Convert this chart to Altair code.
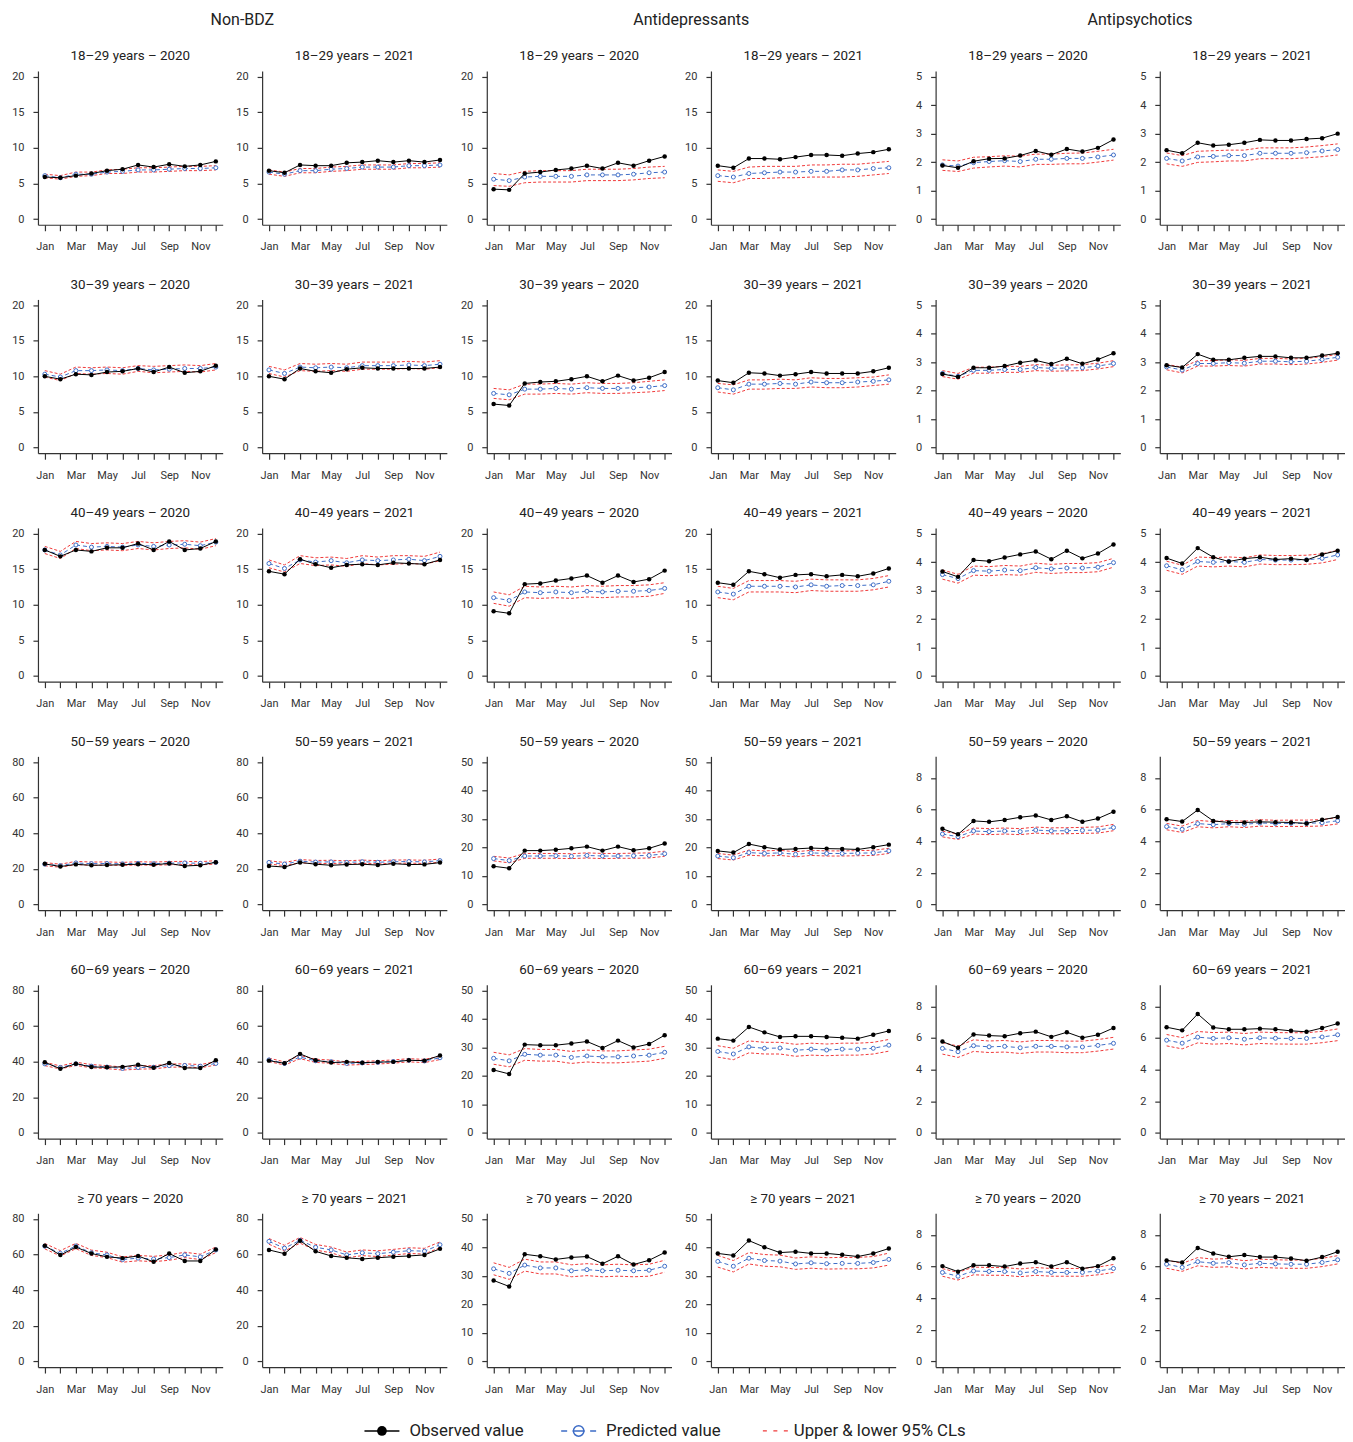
import altair as alt
import pandas as pd

# ---------------- categories / labels ----------------
months = ["Jan", "Feb", "Mar", "Apr", "May", "Jun", "Jul", "Aug", "Sep", "Oct", "Nov", "Dec"]
drug_groups = ["Non-BDZ", "Antidepressants", "Antipsychotics"]
age_groups = ["18–29 years", "30–39 years", "40–49 years", "50–59 years", "60–69 years", "≥ 70 years"]
years = ["2020", "2021"]
legend_labels = ["Observed value", "Predicted value", "Upper & lower 95% CLs"]

# y-axis tick labels per drug group (ages < 50, ages >= 50)
yticks_young = [[0, 5, 10, 15, 20], [0, 5, 10, 15, 20], [0, 1, 2, 3, 4, 5]]
yticks_old = [[0, 20, 40, 60, 80], [0, 10, 20, 30, 40, 50], [0, 2, 4, 6, 8]]
ytop_young = [20, 20, 5]
ytop_old = [80, 50, 9]

# ---------------- Non-BDZ ----------------
nb_a18_y20_obs = [5.9, 5.8, 6.1, 6.4, 6.8, 7.0, 7.6, 7.3, 7.7, 7.4, 7.6, 8.1]
nb_a18_y20_pred = [6.1, 5.8, 6.3, 6.3, 6.6, 6.7, 6.9, 6.9, 7.0, 7.1, 7.1, 7.2]
nb_a18_y20_hi = [6.3, 6.1, 6.6, 6.6, 6.9, 7.0, 7.2, 7.2, 7.3, 7.4, 7.4, 7.5]
nb_a18_y20_lo = [5.8, 5.6, 6.0, 6.1, 6.4, 6.4, 6.6, 6.6, 6.7, 6.8, 6.8, 6.9]

nb_a18_y21_obs = [6.8, 6.5, 7.6, 7.5, 7.5, 7.9, 8.0, 8.2, 8.0, 8.2, 8.0, 8.3]
nb_a18_y21_pred = [6.6, 6.3, 6.8, 6.8, 7.0, 7.1, 7.3, 7.3, 7.3, 7.5, 7.5, 7.6]
nb_a18_y21_hi = [6.9, 6.6, 7.1, 7.1, 7.3, 7.4, 7.6, 7.6, 7.6, 7.8, 7.8, 7.9]
nb_a18_y21_lo = [6.3, 6.0, 6.5, 6.5, 6.7, 6.8, 7.0, 7.0, 7.0, 7.2, 7.2, 7.3]

nb_a30_y20_obs = [10.0, 9.6, 10.3, 10.2, 10.6, 10.7, 11.1, 10.6, 11.3, 10.5, 10.7, 11.5]
nb_a30_y20_pred = [10.3, 9.9, 10.8, 10.8, 10.9, 10.8, 11.1, 10.9, 11.0, 11.1, 11.1, 11.3]
nb_a30_y20_hi = [10.8, 10.3, 11.3, 11.2, 11.3, 11.2, 11.5, 11.4, 11.5, 11.6, 11.5, 11.8]
nb_a30_y20_lo = [9.9, 9.4, 10.4, 10.3, 10.4, 10.3, 10.7, 10.5, 10.6, 10.7, 10.6, 10.9]

nb_a30_y21_obs = [10.0, 9.6, 11.1, 10.7, 10.5, 11.0, 11.2, 11.1, 11.1, 11.1, 11.1, 11.3]
nb_a30_y21_pred = [10.9, 10.4, 11.3, 11.2, 11.3, 11.2, 11.5, 11.5, 11.5, 11.6, 11.5, 11.7]
nb_a30_y21_hi = [11.4, 10.9, 11.8, 11.7, 11.8, 11.7, 12.0, 12.0, 12.0, 12.1, 12.0, 12.2]
nb_a30_y21_lo = [10.4, 9.9, 10.8, 10.7, 10.8, 10.7, 11.0, 11.0, 11.0, 11.1, 11.0, 11.2]

nb_a40_y20_obs = [17.7, 16.8, 17.7, 17.5, 18.0, 18.0, 18.6, 17.7, 18.9, 17.7, 17.9, 18.9]
nb_a40_y20_pred = [17.7, 17.0, 18.4, 18.1, 18.2, 18.1, 18.4, 18.2, 18.4, 18.5, 18.3, 18.8]
nb_a40_y20_hi = [18.2, 17.5, 18.9, 18.6, 18.7, 18.6, 18.9, 18.7, 18.9, 19.0, 18.8, 19.3]
nb_a40_y20_lo = [17.2, 16.5, 17.9, 17.6, 17.7, 17.6, 17.9, 17.7, 17.9, 18.0, 17.8, 18.3]

nb_a40_y21_obs = [14.7, 14.3, 16.4, 15.7, 15.2, 15.6, 15.7, 15.6, 15.9, 15.8, 15.7, 16.3]
nb_a40_y21_pred = [15.8, 15.1, 16.3, 16.0, 16.2, 15.9, 16.3, 16.2, 16.3, 16.4, 16.2, 16.8]
nb_a40_y21_hi = [16.3, 15.6, 16.9, 16.6, 16.7, 16.5, 16.9, 16.7, 16.9, 16.9, 16.8, 17.4]
nb_a40_y21_lo = [15.2, 14.6, 15.8, 15.5, 15.6, 15.4, 15.8, 15.6, 15.7, 15.8, 15.7, 16.2]

nb_a50_y20_obs = [22.8, 21.3, 22.5, 22.0, 22.1, 22.3, 22.6, 22.3, 23.0, 21.6, 22.0, 23.7]
nb_a50_y20_pred = [22.6, 21.8, 23.3, 22.9, 23.0, 22.8, 23.1, 22.9, 23.2, 23.3, 23.1, 23.6]
nb_a50_y20_hi = [23.5, 22.6, 24.2, 23.8, 23.9, 23.6, 24.0, 23.8, 24.1, 24.2, 24.0, 24.6]
nb_a50_y20_lo = [21.7, 20.9, 22.4, 22.0, 22.1, 21.9, 22.2, 22.0, 22.3, 22.4, 22.2, 22.7]

nb_a50_y21_obs = [21.6, 21.0, 23.6, 22.6, 22.0, 22.4, 22.6, 22.1, 22.9, 22.4, 22.5, 23.5]
nb_a50_y21_pred = [23.6, 22.7, 24.3, 23.8, 23.9, 23.6, 24.0, 23.7, 24.0, 24.1, 23.9, 24.6]
nb_a50_y21_hi = [24.5, 23.6, 25.2, 24.7, 24.8, 24.5, 24.9, 24.6, 24.9, 25.0, 24.8, 25.5]
nb_a50_y21_lo = [22.7, 21.8, 23.4, 22.9, 23.0, 22.7, 23.1, 22.8, 23.1, 23.2, 23.0, 23.7]

nb_a60_y20_obs = [39.7, 36.0, 38.9, 37.0, 36.9, 37.1, 38.3, 36.6, 39.3, 36.5, 36.4, 40.8]
nb_a60_y20_pred = [38.8, 36.8, 38.8, 37.5, 37.0, 36.2, 36.7, 36.9, 37.8, 37.9, 37.5, 39.0]
nb_a60_y20_hi = [39.7, 37.6, 39.7, 38.4, 37.8, 37.0, 37.6, 37.8, 38.7, 38.8, 38.4, 40.0]
nb_a60_y20_lo = [37.8, 35.9, 37.9, 36.6, 36.1, 35.3, 35.8, 36.0, 36.9, 37.0, 36.6, 38.1]

nb_a60_y21_obs = [40.6, 39.1, 44.4, 40.8, 39.5, 39.9, 39.4, 39.8, 39.9, 40.8, 40.6, 43.5]
nb_a60_y21_pred = [41.0, 39.0, 42.6, 40.5, 40.0, 39.0, 39.3, 39.6, 40.1, 40.8, 40.4, 42.2]
nb_a60_y21_hi = [42.0, 39.9, 43.5, 41.4, 40.9, 39.9, 40.2, 40.5, 41.0, 41.7, 41.3, 43.1]
nb_a60_y21_lo = [40.1, 38.1, 41.7, 39.6, 39.1, 38.1, 38.4, 38.7, 39.2, 39.9, 39.5, 41.2]

nb_a70_y20_obs = [65.0, 59.7, 64.2, 60.6, 58.7, 58.0, 59.2, 55.9, 60.6, 56.4, 56.4, 62.8]
nb_a70_y20_pred = [64.7, 60.7, 64.8, 61.0, 59.8, 57.2, 58.0, 57.5, 58.3, 59.8, 58.7, 62.6]
nb_a70_y20_hi = [66.2, 62.2, 66.3, 62.5, 61.3, 58.7, 59.5, 59.0, 59.8, 61.3, 60.2, 64.2]
nb_a70_y20_lo = [63.2, 59.2, 63.3, 59.5, 58.3, 55.7, 56.5, 56.0, 56.8, 58.3, 57.2, 61.1]

nb_a70_y21_obs = [62.6, 60.5, 67.8, 61.8, 59.2, 58.2, 57.5, 58.2, 58.8, 59.2, 59.8, 63.2]
nb_a70_y21_pred = [67.4, 63.6, 68.0, 64.1, 62.6, 59.8, 61.0, 60.5, 61.3, 62.2, 61.9, 65.5]
nb_a70_y21_hi = [69.0, 65.2, 69.6, 65.7, 64.2, 61.4, 62.6, 62.1, 62.9, 63.8, 63.5, 67.1]
nb_a70_y21_lo = [65.8, 62.0, 66.4, 62.5, 61.0, 58.2, 59.4, 58.9, 59.7, 60.6, 60.3, 63.9]

# ---------------- Antidepressants ----------------
ad_a18_y20_obs = [4.2, 4.1, 6.4, 6.6, 6.9, 7.1, 7.5, 7.1, 7.9, 7.5, 8.2, 8.8]
ad_a18_y20_pred = [5.6, 5.4, 5.9, 6.0, 6.0, 6.0, 6.2, 6.2, 6.2, 6.3, 6.5, 6.6]
ad_a18_y20_hi = [6.4, 6.2, 6.7, 6.8, 6.8, 6.8, 7.0, 7.0, 7.0, 7.1, 7.3, 7.4]
ad_a18_y20_lo = [4.7, 4.6, 5.1, 5.2, 5.2, 5.2, 5.4, 5.4, 5.4, 5.5, 5.7, 5.8]

ad_a18_y21_obs = [7.5, 7.2, 8.5, 8.5, 8.4, 8.7, 9.0, 9.0, 8.9, 9.2, 9.4, 9.8]
ad_a18_y21_pred = [6.1, 5.9, 6.4, 6.5, 6.6, 6.6, 6.7, 6.7, 6.9, 6.9, 7.1, 7.2]
ad_a18_y21_hi = [6.9, 6.7, 7.3, 7.4, 7.4, 7.4, 7.6, 7.6, 7.7, 7.7, 7.9, 8.1]
ad_a18_y21_lo = [5.3, 5.1, 5.7, 5.7, 5.8, 5.8, 5.9, 5.9, 5.9, 6.0, 6.2, 6.4]

ad_a30_y20_obs = [6.1, 5.9, 9.0, 9.2, 9.3, 9.6, 10.0, 9.3, 10.1, 9.4, 9.8, 10.6]
ad_a30_y20_pred = [7.6, 7.4, 8.2, 8.2, 8.3, 8.2, 8.4, 8.3, 8.3, 8.4, 8.5, 8.7]
ad_a30_y20_hi = [8.3, 8.1, 8.9, 8.9, 9.0, 8.9, 9.1, 9.0, 9.0, 9.1, 9.3, 9.5]
ad_a30_y20_lo = [6.9, 6.7, 7.5, 7.5, 7.6, 7.5, 7.7, 7.6, 7.6, 7.7, 7.8, 8.0]

ad_a30_y21_obs = [9.4, 9.1, 10.5, 10.4, 10.1, 10.3, 10.6, 10.4, 10.4, 10.4, 10.7, 11.2]
ad_a30_y21_pred = [8.4, 8.1, 8.9, 8.9, 9.0, 8.9, 9.2, 9.1, 9.1, 9.2, 9.3, 9.5]
ad_a30_y21_hi = [9.0, 8.8, 9.5, 9.5, 9.6, 9.5, 9.8, 9.7, 9.7, 9.8, 9.9, 10.2]
ad_a30_y21_lo = [7.8, 7.5, 8.2, 8.2, 8.3, 8.3, 8.5, 8.4, 8.4, 8.5, 8.7, 8.9]

ad_a40_y20_obs = [9.1, 8.8, 12.9, 13.0, 13.4, 13.7, 14.1, 13.1, 14.1, 13.2, 13.6, 14.8]
ad_a40_y20_pred = [11.0, 10.6, 11.8, 11.7, 11.8, 11.7, 11.9, 11.8, 11.9, 11.9, 12.0, 12.3]
ad_a40_y20_hi = [11.8, 11.4, 12.6, 12.5, 12.6, 12.5, 12.7, 12.6, 12.7, 12.7, 12.8, 13.1]
ad_a40_y20_lo = [10.2, 9.8, 11.0, 10.9, 11.0, 10.9, 11.1, 11.0, 11.1, 11.1, 11.2, 11.6]

ad_a40_y21_obs = [13.1, 12.8, 14.7, 14.3, 13.8, 14.2, 14.3, 14.0, 14.2, 14.0, 14.4, 15.1]
ad_a40_y21_pred = [11.8, 11.5, 12.6, 12.6, 12.6, 12.5, 12.8, 12.6, 12.7, 12.7, 12.8, 13.3]
ad_a40_y21_hi = [12.6, 12.3, 13.4, 13.4, 13.4, 13.3, 13.6, 13.5, 13.5, 13.5, 13.7, 14.1]
ad_a40_y21_lo = [11.0, 10.7, 11.8, 11.8, 11.8, 11.7, 12.0, 11.9, 11.9, 11.9, 12.1, 12.5]

ad_a50_y20_obs = [13.4, 12.7, 18.9, 18.9, 19.2, 19.7, 20.3, 18.9, 20.3, 19.0, 19.7, 21.4]
ad_a50_y20_pred = [16.1, 15.4, 17.0, 17.0, 17.1, 16.9, 17.2, 17.0, 17.0, 17.1, 17.2, 17.8]
ad_a50_y20_hi = [16.9, 16.3, 17.9, 17.9, 17.9, 17.8, 18.1, 17.9, 17.9, 18.0, 18.1, 18.7]
ad_a50_y20_lo = [15.3, 14.6, 16.2, 16.2, 16.2, 16.1, 16.3, 16.1, 16.2, 16.2, 16.3, 16.9]

ad_a50_y21_obs = [18.8, 18.2, 21.2, 20.1, 19.3, 19.5, 19.8, 19.6, 19.5, 19.3, 20.1, 21.0]
ad_a50_y21_pred = [17.0, 16.4, 18.2, 17.9, 18.1, 17.6, 18.1, 17.9, 17.9, 18.0, 18.1, 18.8]
ad_a50_y21_hi = [17.9, 17.3, 19.1, 18.8, 19.0, 18.5, 19.0, 18.8, 18.8, 18.9, 19.0, 19.7]
ad_a50_y21_lo = [16.1, 15.6, 17.3, 17.0, 17.2, 16.7, 17.2, 17.0, 17.0, 17.1, 17.2, 17.9]

ad_a60_y20_obs = [22.1, 20.7, 31.0, 30.8, 30.8, 31.4, 32.1, 29.8, 32.4, 30.0, 31.2, 34.3]
ad_a60_y20_pred = [26.2, 25.3, 27.6, 27.3, 27.3, 26.5, 27.0, 26.7, 26.7, 27.0, 27.3, 28.3]
ad_a60_y20_hi = [28.3, 27.4, 29.6, 29.3, 29.3, 28.6, 29.1, 28.8, 28.8, 29.1, 29.4, 30.4]
ad_a60_y20_lo = [24.1, 23.2, 25.5, 25.2, 25.2, 24.4, 24.9, 24.6, 24.6, 24.9, 25.2, 26.2]

ad_a60_y21_obs = [33.1, 32.4, 37.2, 35.3, 33.7, 33.9, 33.9, 33.7, 33.4, 33.1, 34.5, 35.8]
ad_a60_y21_pred = [28.6, 27.7, 30.2, 29.7, 29.8, 29.0, 29.4, 29.1, 29.4, 29.4, 29.7, 30.8]
ad_a60_y21_hi = [30.6, 29.7, 32.3, 31.8, 31.8, 31.1, 31.5, 31.2, 31.5, 31.5, 31.8, 32.8]
ad_a60_y21_lo = [26.6, 25.7, 28.1, 27.7, 27.7, 26.9, 27.3, 27.1, 27.3, 27.3, 27.7, 28.7]

ad_a70_y20_obs = [28.4, 26.3, 37.6, 36.9, 35.8, 36.5, 36.8, 34.3, 36.9, 34.0, 35.5, 38.2]
ad_a70_y20_pred = [32.5, 30.9, 33.8, 32.8, 32.8, 31.8, 32.2, 31.8, 32.0, 31.8, 32.0, 33.4]
ad_a70_y20_hi = [34.6, 33.0, 35.9, 34.9, 34.9, 33.9, 34.3, 33.9, 34.1, 33.9, 34.1, 35.5]
ad_a70_y20_lo = [30.4, 28.8, 31.7, 30.7, 30.7, 29.7, 30.1, 29.7, 29.9, 29.7, 29.9, 31.3]

ad_a70_y21_obs = [37.9, 37.2, 42.4, 40.1, 38.2, 38.5, 37.9, 37.9, 37.4, 36.8, 37.9, 39.6]
ad_a70_y21_pred = [35.1, 33.4, 36.2, 35.4, 35.2, 34.2, 34.6, 34.3, 34.4, 34.4, 34.7, 35.8]
ad_a70_y21_hi = [37.2, 35.4, 38.2, 37.5, 37.3, 36.3, 36.7, 36.4, 36.5, 36.5, 36.8, 38.0]
ad_a70_y21_lo = [33.1, 31.4, 34.2, 33.4, 33.2, 32.3, 32.7, 32.4, 32.5, 32.5, 32.8, 33.8]

# ---------------- Antipsychotics ----------------
ap_a18_y20_obs = [1.88, 1.80, 2.03, 2.12, 2.13, 2.23, 2.39, 2.26, 2.46, 2.37, 2.50, 2.79]
ap_a18_y20_pred = [1.90, 1.86, 1.98, 2.02, 2.05, 2.02, 2.10, 2.10, 2.13, 2.13, 2.18, 2.25]
ap_a18_y20_hi = [2.08, 2.04, 2.17, 2.19, 2.22, 2.21, 2.28, 2.28, 2.31, 2.32, 2.38, 2.45]
ap_a18_y20_lo = [1.71, 1.67, 1.79, 1.83, 1.86, 1.83, 1.92, 1.92, 1.94, 1.94, 2.00, 2.07]

ap_a18_y21_obs = [2.42, 2.31, 2.68, 2.58, 2.61, 2.68, 2.78, 2.76, 2.76, 2.81, 2.84, 3.00]
ap_a18_y21_pred = [2.13, 2.04, 2.18, 2.20, 2.23, 2.23, 2.31, 2.31, 2.31, 2.33, 2.39, 2.44]
ap_a18_y21_hi = [2.32, 2.23, 2.38, 2.40, 2.42, 2.42, 2.50, 2.50, 2.50, 2.53, 2.58, 2.64]
ap_a18_y21_lo = [1.94, 1.85, 1.99, 2.01, 2.04, 2.04, 2.12, 2.12, 2.12, 2.15, 2.19, 2.25]

ap_a30_y20_obs = [2.58, 2.48, 2.80, 2.80, 2.86, 2.98, 3.06, 2.93, 3.12, 2.94, 3.09, 3.31]
ap_a30_y20_pred = [2.60, 2.50, 2.71, 2.71, 2.74, 2.74, 2.81, 2.78, 2.79, 2.80, 2.86, 2.95]
ap_a30_y20_hi = [2.70, 2.60, 2.82, 2.82, 2.85, 2.85, 2.91, 2.89, 2.90, 2.91, 2.96, 3.05]
ap_a30_y20_lo = [2.49, 2.40, 2.61, 2.61, 2.64, 2.64, 2.70, 2.68, 2.69, 2.70, 2.76, 2.84]

ap_a30_y21_obs = [2.89, 2.81, 3.28, 3.08, 3.08, 3.15, 3.20, 3.20, 3.15, 3.15, 3.23, 3.31]
ap_a30_y21_pred = [2.83, 2.72, 2.95, 2.95, 2.98, 2.96, 3.03, 3.03, 3.01, 3.03, 3.09, 3.17]
ap_a30_y21_hi = [2.92, 2.82, 3.05, 3.05, 3.08, 3.06, 3.13, 3.13, 3.11, 3.13, 3.19, 3.27]
ap_a30_y21_lo = [2.73, 2.62, 2.86, 2.86, 2.88, 2.86, 2.93, 2.93, 2.91, 2.93, 2.99, 3.07]

ap_a40_y20_obs = [3.67, 3.48, 4.07, 4.03, 4.16, 4.27, 4.37, 4.10, 4.40, 4.13, 4.30, 4.62]
ap_a40_y20_pred = [3.56, 3.42, 3.70, 3.68, 3.72, 3.70, 3.80, 3.76, 3.79, 3.79, 3.82, 3.98]
ap_a40_y20_hi = [3.72, 3.57, 3.86, 3.84, 3.88, 3.86, 3.96, 3.92, 3.95, 3.95, 3.98, 4.13]
ap_a40_y20_lo = [3.40, 3.26, 3.54, 3.52, 3.56, 3.54, 3.64, 3.60, 3.63, 3.63, 3.66, 3.82]

ap_a40_y21_obs = [4.14, 3.95, 4.49, 4.17, 4.02, 4.12, 4.17, 4.09, 4.12, 4.07, 4.27, 4.40]
ap_a40_y21_pred = [3.87, 3.73, 4.02, 3.99, 4.02, 3.99, 4.09, 4.07, 4.07, 4.08, 4.13, 4.25]
ap_a40_y21_hi = [4.03, 3.89, 4.18, 4.15, 4.18, 4.15, 4.25, 4.23, 4.23, 4.24, 4.29, 4.41]
ap_a40_y21_lo = [3.71, 3.57, 3.86, 3.83, 3.86, 3.83, 3.93, 3.91, 3.91, 3.92, 3.97, 4.09]

ap_a50_y20_obs = [4.78, 4.43, 5.28, 5.22, 5.34, 5.51, 5.62, 5.34, 5.57, 5.22, 5.43, 5.86]
ap_a50_y20_pred = [4.45, 4.28, 4.64, 4.60, 4.64, 4.60, 4.70, 4.65, 4.66, 4.68, 4.70, 4.86]
ap_a50_y20_hi = [4.63, 4.45, 4.83, 4.79, 4.83, 4.79, 4.89, 4.84, 4.85, 4.87, 4.90, 5.06]
ap_a50_y20_lo = [4.27, 4.11, 4.45, 4.41, 4.45, 4.41, 4.51, 4.46, 4.47, 4.49, 4.51, 4.66]

ap_a50_y21_obs = [5.38, 5.24, 5.97, 5.28, 5.18, 5.18, 5.22, 5.20, 5.18, 5.12, 5.35, 5.53]
ap_a50_y21_pred = [4.92, 4.75, 5.11, 5.04, 5.11, 5.06, 5.15, 5.12, 5.13, 5.13, 5.16, 5.29]
ap_a50_y21_hi = [5.12, 4.95, 5.31, 5.24, 5.31, 5.26, 5.35, 5.32, 5.33, 5.33, 5.36, 5.49]
ap_a50_y21_lo = [4.72, 4.55, 4.91, 4.84, 4.91, 4.86, 4.95, 4.92, 4.93, 4.93, 4.96, 5.09]

ap_a60_y20_obs = [5.77, 5.38, 6.22, 6.15, 6.11, 6.30, 6.40, 6.07, 6.36, 6.01, 6.20, 6.63]
ap_a60_y20_pred = [5.34, 5.13, 5.51, 5.44, 5.47, 5.38, 5.47, 5.47, 5.43, 5.43, 5.53, 5.66]
ap_a60_y20_hi = [5.70, 5.49, 5.88, 5.81, 5.84, 5.75, 5.84, 5.84, 5.80, 5.80, 5.90, 6.04]
ap_a60_y20_lo = [4.98, 4.77, 5.15, 5.08, 5.11, 5.02, 5.11, 5.11, 5.07, 5.07, 5.17, 5.30]

ap_a60_y21_obs = [6.68, 6.48, 7.52, 6.66, 6.55, 6.55, 6.59, 6.55, 6.45, 6.39, 6.63, 6.91]
ap_a60_y21_pred = [5.86, 5.67, 6.05, 5.97, 6.01, 5.92, 6.01, 5.98, 5.97, 5.97, 6.06, 6.20]
ap_a60_y21_hi = [6.22, 6.02, 6.41, 6.34, 6.37, 6.28, 6.37, 6.34, 6.33, 6.33, 6.42, 6.57]
ap_a60_y21_lo = [5.50, 5.31, 5.69, 5.61, 5.65, 5.56, 5.65, 5.62, 5.61, 5.61, 5.70, 5.83]

ap_a70_y20_obs = [6.02, 5.67, 6.07, 6.07, 5.99, 6.18, 6.27, 5.99, 6.27, 5.86, 6.02, 6.52]
ap_a70_y20_pred = [5.62, 5.38, 5.71, 5.68, 5.68, 5.59, 5.68, 5.62, 5.62, 5.62, 5.71, 5.87]
ap_a70_y20_hi = [5.86, 5.62, 5.96, 5.93, 5.93, 5.84, 5.93, 5.87, 5.87, 5.87, 5.96, 6.12]
ap_a70_y20_lo = [5.38, 5.14, 5.47, 5.44, 5.44, 5.35, 5.44, 5.38, 5.38, 5.38, 5.47, 5.62]

ap_a70_y21_obs = [6.38, 6.25, 7.17, 6.82, 6.61, 6.72, 6.59, 6.59, 6.50, 6.36, 6.59, 6.93]
ap_a70_y21_pred = [6.14, 5.94, 6.30, 6.20, 6.24, 6.10, 6.20, 6.16, 6.14, 6.14, 6.25, 6.42]
ap_a70_y21_hi = [6.40, 6.19, 6.56, 6.46, 6.50, 6.36, 6.46, 6.42, 6.40, 6.40, 6.51, 6.68]
ap_a70_y21_lo = [5.88, 5.69, 6.04, 5.94, 5.98, 5.84, 5.94, 5.90, 5.88, 5.88, 5.99, 6.16]

# ---------------- lookup built from the named lists ----------------
_g = globals()
drug_keys = ["nb", "ad", "ap"]
age_keys = ["a18", "a30", "a40", "a50", "a60", "a70"]
year_keys = ["y20", "y21"]


def series(d, a, y):
    p = f"{drug_keys[d]}_{age_keys[a]}_{year_keys[y]}"
    return _g[p + "_obs"], _g[p + "_pred"], _g[p + "_lo"], _g[p + "_hi"]


# ---------------- styling ----------------
FONT = "Roboto"
RED = "#F03A3A"
BLUE = "#3D6CC6"
TEXT = "#222222"
AXIS = "#333333"
PW, PH = 185, 154          # plot area of each panel
HSP, VSP = 9.5, 25.8       # spacing between panels

odd_months = ",".join(f"'{m}'" for m in months[::2])
xlabel_expr = f"indexof([{odd_months}], datum.value) >= 0 ? datum.value : ''"


def make_panel(d, a, y):
    obs, pred, lo, hi = series(d, a, y)
    df = pd.DataFrame({"month": months, "obs": obs, "pred": pred, "lo": lo, "hi": hi})
    young = a < 3
    top = ytop_young[d] if young else ytop_old[d]
    ticks = yticks_young[d] if young else yticks_old[d]
    ext = 0.04 * top
    yscale = alt.Scale(domain=[-ext, top + ext], nice=False, zero=False)
    yaxis = alt.Axis(values=ticks, tickSize=5, labelPadding=9, labelFontSize=11,
                     minExtent=30, maxExtent=30, grid=False, title=None)

    def Y(f):
        return alt.Y(f"{f}:Q", scale=yscale, axis=yaxis, title=None)

    xaxis = alt.Axis(labelExpr=xlabel_expr, labelAngle=0, tickSize=6, labelPadding=10,
                     labelFontSize=11, labelOverlap=False, grid=False, title=None)
    X = alt.X("month:O", sort=months, scale=alt.Scale(type="point", padding=0.44),
              axis=xaxis, title=None)
    base = alt.Chart(df).encode(x=X)
    layers = [
        base.mark_line(color=RED, strokeWidth=1, strokeDash=[3, 2]).encode(y=Y("lo")),
        base.mark_line(color=RED, strokeWidth=1, strokeDash=[3, 2]).encode(y=Y("hi")),
        base.mark_line(color=BLUE, strokeWidth=1, strokeDash=[4, 3]).encode(y=Y("pred")),
        base.mark_point(shape="circle", size=16, filled=True, fill="white", stroke=BLUE,
                        strokeWidth=1, opacity=1).encode(y=Y("pred")),
        base.mark_line(color="black", strokeWidth=1).encode(y=Y("obs")),
        base.mark_circle(size=20, color="black", opacity=1).encode(y=Y("obs")),
    ]
    return alt.layer(*layers).properties(
        width=PW, height=PH,
        title=alt.TitleParams(text=f"{age_groups[a]} – {years[y]}", fontSize=13.4, font=FONT,
                              fontWeight="normal", color=TEXT, frame="group",
                              anchor="middle", offset=8),
    )


groups = []
for d in range(3):
    rows = [alt.hconcat(make_panel(d, a, 0), make_panel(d, a, 1), spacing=HSP) for a in range(6)]
    groups.append(alt.vconcat(*rows, spacing=VSP, title=alt.TitleParams(
        text=drug_groups[d], fontSize=16, font=FONT, fontWeight="normal", color=TEXT,
        anchor="middle", offset=21, dx=15)))
grid = alt.hconcat(*groups, spacing=HSP)

# ---------------- legend row ----------------
leg_df = pd.DataFrame({"label": legend_labels})
LX = alt.X("label:N", sort=legend_labels,
           scale=alt.Scale(type="point", range=[344.5, 738.5], padding=0), axis=None)
lb = alt.Chart(leg_df).encode(x=LX, y=alt.value(10))


def only(i):
    return alt.datum.label == legend_labels[i]


legend = alt.layer(
    lb.transform_filter(only(0)).mark_point(shape="M-17.5,0H17.5", size=4, stroke="black",
                                            strokeWidth=1.5, filled=False, opacity=1),
    lb.transform_filter(only(0)).mark_circle(size=95, color="black", opacity=1),
    lb.transform_filter(only(1)).mark_point(shape="M-17.5,0H-11.5M-6,0H6M11.5,0H17.5", size=4,
                                            stroke=BLUE, strokeWidth=1.5, filled=False, opacity=1),
    lb.transform_filter(only(1)).mark_point(shape="circle", size=110, stroke=BLUE, strokeWidth=1.5,
                                            filled=False, opacity=1),
    lb.transform_filter(only(2)).mark_point(shape="M-12.5,0H-8.5M-2,0H2M8.5,0H12.5", size=4,
                                            stroke=RED, strokeWidth=1.2, filled=False, opacity=1),
    lb.transform_filter(alt.datum.label != legend_labels[2]).mark_text(
        align="left", baseline="middle", dx=27.5, fontSize=16.8, font=FONT, color=TEXT).encode(text="label:N"),
    lb.transform_filter(only(2)).mark_text(
        align="left", baseline="middle", dx=18.5, fontSize=16.8, font=FONT, color=TEXT).encode(text="label:N"),
).properties(width=1141, height=20)

chart = alt.vconcat(grid, legend, spacing=27).properties(
    padding={"top": 3, "left": 0, "right": 0, "bottom": 0}
).configure_view(stroke=None).configure_axis(
    domainColor=AXIS, tickColor=AXIS, labelColor=AXIS, labelFont=FONT,
    domainWidth=1.2, tickWidth=1.2, grid=False,
).configure_title(font=FONT)

chart.save("out.html", embed_options={"renderer": "svg", "actions": False})
